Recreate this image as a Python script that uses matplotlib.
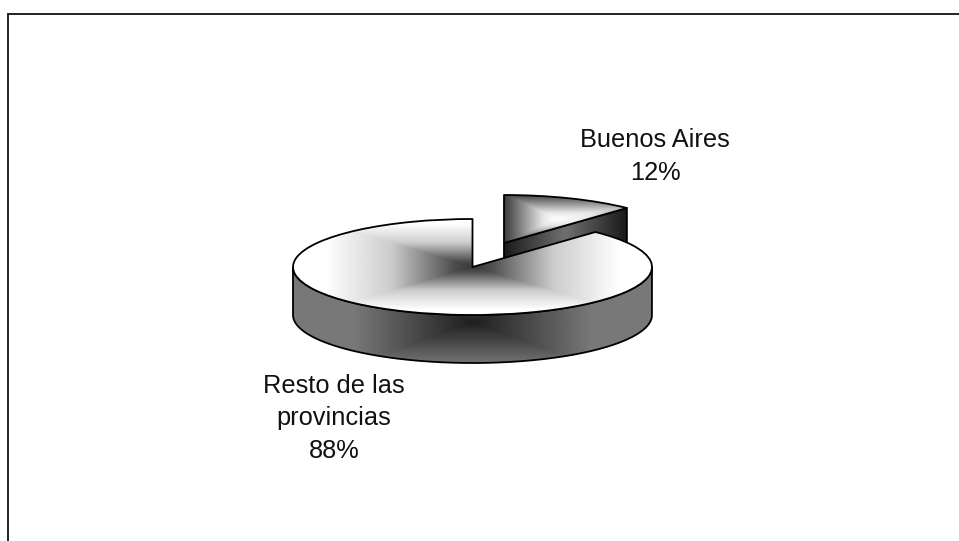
import numpy as np
import matplotlib
matplotlib.use("Agg")
import matplotlib.pyplot as plt
from matplotlib.patches import Wedge, PathPatch
from matplotlib.path import Path

# Data
categories = ["Buenos Aires", "Resto de las\nprovincias"]
shares = [12, 88]
share_labels = ["12%", "88%"]

# Layout in pixels
W, H = 959, 541
RX, RY = 179.5, 48.0
CX, CY = 472.5, 267.0
DEPTH = 1.0              # in units of RY
EXPLODE_PX = (31.5, -24.0)
LW = 1.3


def ux(px):
    return (px - CX) / RX


def uy(py):
    return (CY - py) / RY


fig = plt.figure(figsize=(W / 100, H / 100), dpi=100, facecolor="white")
ax = fig.add_axes([0, 0, 1, 1])
ax.set_axis_off()


def gradient(x0, x1, y0, y1, fx, fy, wl, wr, wd, wu, stops, vals, z, clip):
    """Rectangular path gradient centred on (fx, fy), drawn inside clip."""
    xs = np.linspace(x0, x1, 500)
    ys = np.linspace(y0, y1, 300)
    X, Y = np.meshgrid(xs, ys)
    tx = np.where(X < fx, (fx - X) / wl, (X - fx) / wr)
    ty = np.where(Y < fy, (fy - Y) / wd, (Y - fy) / wu)
    t = np.clip(np.maximum(tx, ty), 0, 1)
    im = ax.imshow(np.interp(t, stops, vals), extent=(x0, x1, y0, y1), origin="lower",
                   cmap="gray", vmin=0, vmax=1, aspect="auto",
                   interpolation="bilinear", zorder=z)
    im.set_clip_path(clip)


def outline(patch, z):
    patch.set(facecolor="none", edgecolor="black", linewidth=LW, zorder=z, joinstyle="round")
    ax.add_patch(patch)
    return patch


# Angles follow the shares: clockwise from 12 o'clock
total = sum(shares)
sweep_small = 360.0 * shares[0] / total
small_t1, small_t2 = 90.0 - sweep_small, 90.0
main_t1, main_t2 = 90.0, 360.0 + 90.0 - sweep_small

# Exploded small slice
ox, oy = EXPLODE_PX[0] / RX, -EXPLODE_PX[1] / RY
tipx = ox + np.cos(np.radians(small_t1))
tipy = oy + np.sin(np.radians(small_t1))

cut = Path([(ox, oy), (tipx, tipy), (tipx, tipy - DEPTH), (ox, oy - DEPTH), (ox, oy)], closed=False)
cut_edge = outline(PathPatch(cut), 2.5)
gradient(ox, tipx, oy - DEPTH - 1, oy + 1, (ox + tipx) / 2, oy, (tipx - ox) / 2, (tipx - ox) / 2,
         9, 9, [0, 1], [0.44, 0.1], 2, cut_edge)

small_top = outline(Wedge((ox, oy), 1.0, small_t1, small_t2), 3.5)
gradient(ox - 0.02, tipx + 0.02, oy - 0.1, oy + 1.05, ox + 0.29, oy + 0.5, 0.29, 0.8, 0.52, 0.52,
         [0, 0.25, 1], [1.0, 0.9, 0.22], 3, small_top)

# Main slice: extruded front wall
a = np.radians(np.linspace(180, 360, 200))
wall_xy = np.vstack([np.c_[np.cos(a), np.sin(a)],
                     np.c_[np.cos(a[::-1]), np.sin(a[::-1]) - DEPTH],
                     [[np.cos(a[0]), np.sin(a[0])]]])
wall = outline(PathPatch(Path(wall_xy)), 4.5)
gradient(-1.02, 1.02, -2.1, 0.05, 0, uy(322), 0.66, 0.66, 0.9, 0.9,
         [0, 1], [0.12, 0.47], 4, wall)

# Main slice: top face
main_top = outline(Wedge((0, 0), 1.0, main_t1, main_t2), 5.5)
gradient(-1.02, 1.02, -1.05, 1.05, 0, 0, 0.82, 0.82, 0.9, 0.9, [0, 0.12, 0.55, 1],
         [0.22, 0.3, 0.8, 1.0], 5, main_top)

# Labels
font = dict(family="Liberation Sans", fontsize=18.3, color="#111111", ha="center", va="center",
            linespacing=1.45, zorder=6)
ax.text(ux(655), uy(156.5), categories[0] + "\n" + share_labels[0], **font)
ax.text(ux(334), uy(418.5), categories[1] + "\n" + share_labels[1], **font)

# Chart frame: only the top and left edges fall inside the picture
left, top = ux(8.5), uy(14.5)
ax.plot([ux(W + 5), left, left], [top, top, uy(H + 5)], color="#222222", lw=1.4, zorder=7,
        solid_joinstyle="miter", clip_on=True)

ax.set_xlim(ux(0), ux(W))
ax.set_ylim(uy(H), uy(0))
fig.savefig("out.png", dpi=100, facecolor="white")
